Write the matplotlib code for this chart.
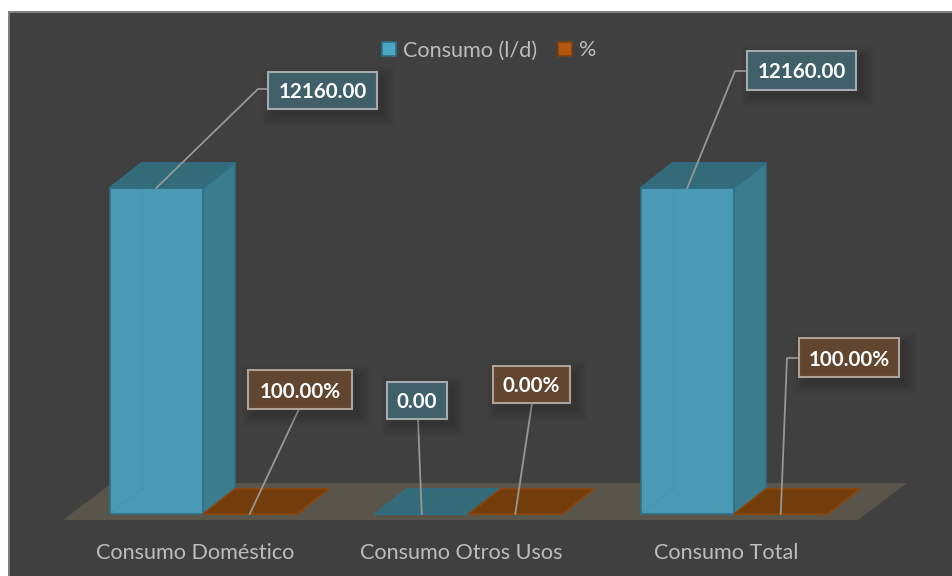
import matplotlib
matplotlib.use("Agg")
import matplotlib.pyplot as plt
from matplotlib.patches import Polygon, Rectangle
from matplotlib.lines import Line2D
from matplotlib.transforms import IdentityTransform

# Data
categories = ["Consumo Doméstico", "Consumo Otros Usos", "Consumo Total"]
consumo = [12160.0, 0.0, 12160.0]
porcentaje = [1.0, 0.0, 1.0]
series_names = ["Consumo (l/d)", "%"]

# Canvas and plot scale
W, H = 952, 576
BASE_PX = 514          # baseline row
FIRST_PX = 203         # first category centre column
STEP_PX = 265.5        # columns per category
PX_PER_UNIT = 326 / 12160
BAR_W = 93.5 / STEP_PX
DEPTH_X = 32 / STEP_PX
DEPTH_Y = 25 / PX_PER_UNIT

plt.rcParams["font.family"] = ["Lato", "DejaVu Sans"]
fig = plt.figure(figsize=(W / 100, H / 100), dpi=100, facecolor="white")

def fx(px):
    return px / W

def fy(py):
    return 1 - py / H

# Chart area with its thin grey frame on the left and top
fig.patches.append(Rectangle((fx(8), 0), 1, fy(11), transform=fig.transFigure,
                             facecolor="#7f7f7f", edgecolor="none", zorder=-3))
fig.patches.append(Rectangle((fx(10), 0), 1, fy(13), transform=fig.transFigure,
                             facecolor="#404040", edgecolor="none", zorder=-2))

ax = fig.add_axes([0, (H - BASE_PX) / H, 1, BASE_PX / H])
ax.patch.set_visible(False)
ax.set_xlim(-FIRST_PX / STEP_PX, (W - FIRST_PX) / STEP_PX)
ax.set_ylim(0, BASE_PX / PX_PER_UNIT)
for s in ax.spines.values():
    s.set_visible(False)
ax.yaxis.set_visible(False)

# Category labels sit slightly left of each category centre
LABEL_SHIFT = 7.5 / STEP_PX
ax.set_xticks([i - LABEL_SHIFT for i in range(len(categories))])
ax.set_xticklabels(categories, fontsize=15.6, color="#bcbcbc")
ax.tick_params(axis="x", length=0, pad=21)

# Floor of the 3-D box
floor_drop = 6 / PX_PER_UNIT
floor_dx = 49 / STEP_PX
floor_dy = 37 / PX_PER_UNIT
fl, fr = (63 - FIRST_PX) / STEP_PX, (858 - FIRST_PX) / STEP_PX
ax.add_patch(Polygon([(fl, -floor_drop), (fr, -floor_drop),
                      (fr + floor_dx, -floor_drop + floor_dy),
                      (fl + floor_dx, -floor_drop + floor_dy)],
                     closed=True, facecolor="#59554a", edgecolor="none",
                     clip_on=False, zorder=1))

TEAL = dict(front="#4a9ab5", side="#3b7c8f", top="#336b79", edge="#2f6f85")
ORANGE = dict(front="#b5560f", side="#8a4410", top="#733c0b", edge="#8a450c")


def draw_bar(x0, value, c, z):
    x1 = x0 + BAR_W
    front = [(x0, 0), (x1, 0), (x1, value), (x0, value)]
    side = [(x1, 0), (x1 + DEPTH_X, DEPTH_Y), (x1 + DEPTH_X, value + DEPTH_Y), (x1, value)]
    top = [(x0, value), (x1, value), (x1 + DEPTH_X, value + DEPTH_Y), (x0 + DEPTH_X, value + DEPTH_Y)]
    kw = dict(closed=True, linewidth=1.2, edgecolor=c["edge"], clip_on=False, zorder=z)
    ax.add_patch(Polygon(side, facecolor=c["side"], **kw))
    ax.add_patch(Polygon(front, facecolor=c["front"], **kw))
    ax.add_patch(Polygon(top, facecolor=c["top"], **kw))
    # Hidden rear edges show faintly through the translucent front face
    if value * PX_PER_UNIT > 30:
        ax.plot([x0 + DEPTH_X] * 2, [DEPTH_Y, value], color=c["edge"], alpha=0.1,
                lw=1, zorder=z + 0.5)
        ax.plot([x0, x0 + DEPTH_X], [0, DEPTH_Y], color=c["edge"], alpha=0.1,
                lw=1, zorder=z + 0.5)


for i, (v, p) in enumerate(zip(consumo, porcentaje)):
    draw_bar(i - BAR_W, v, TEAL, 3)
    draw_bar(i, p, ORANGE, 4)

# Callouts: box in image pixels (left, top, right, bottom), elbow row/column of the leader
teal_boxes = [(268, 72, 377, 109), (387, 382, 447, 419), (747, 51, 856, 90)]
orange_boxes = [(248, 370, 352, 409), (493, 366, 570, 403), (799, 338, 899, 377)]
teal_leaders = [[(258, 89), (268, 89)], [(418, 419)], [(735, 71), (747, 71)]]
orange_leaders = [[(299, 409)], [(532, 403)], [(787, 358), (799, 358)]]


def callout(anchor, value_text, box, via, face, edge):
    ax_xy = ax.transData.transform(anchor)
    xs = [ax_xy[0]] + [p[0] for p in via]
    ys = [ax_xy[1]] + [H - p[1] for p in via]
    fig.add_artist(Line2D(xs, ys, transform=IdentityTransform(), color="#979797",
                          lw=1.3, zorder=6))
    l, t, r, b = box
    # Soft drop shadow built from stacked translucent rectangles
    for grow in range(12, -1, -1):
        fig.add_artist(Rectangle((fx(l + 6 - grow), fy(b + 6 + grow)),
                                 (r - l + 2 * grow) / W, (b - t + 2 * grow) / H,
                                 transform=fig.transFigure, facecolor="black",
                                 edgecolor="none", alpha=0.011, zorder=6.5))
    fig.add_artist(Rectangle((fx(l), fy(b)), (r - l) / W, (b - t) / H,
                             transform=fig.transFigure, facecolor=face,
                             edgecolor=edge, lw=1.5, zorder=7))
    fig.text(fx((l + r) / 2), fy((t + b) / 2), value_text, color="white", fontsize=14.9,
             fontweight="bold", ha="center", va="center_baseline", zorder=8)


for i, v in enumerate(consumo):
    callout((i - BAR_W / 2, v), f"{v:.2f}", teal_boxes[i], teal_leaders[i], "#3f5f69", "#a3abae")
for i, p in enumerate(porcentaje):
    callout((i + BAR_W / 2, p), f"{p * 100:.2f}%", orange_boxes[i], orange_leaders[i], "#62452f", "#ada298")

# Legend across the top
handles = [Rectangle((0, 0), 1, 1, facecolor="#4ba5c4", edgecolor="#2f6f85", lw=1.2),
           Rectangle((0, 0), 1, 1, facecolor="#b5560f", edgecolor="#7a4010", lw=1.2)]
fig.legend(handles, series_names, loc="center", bbox_to_anchor=(fx(489), fy(50.5)), ncol=2,
           frameon=False, fontsize=15.6, labelcolor="#bcbcbc", handlelength=0.65,
           handleheight=0.65, handletextpad=0.33, columnspacing=0.95, borderpad=0)

fig.savefig("out.png", dpi=100, facecolor="white")
